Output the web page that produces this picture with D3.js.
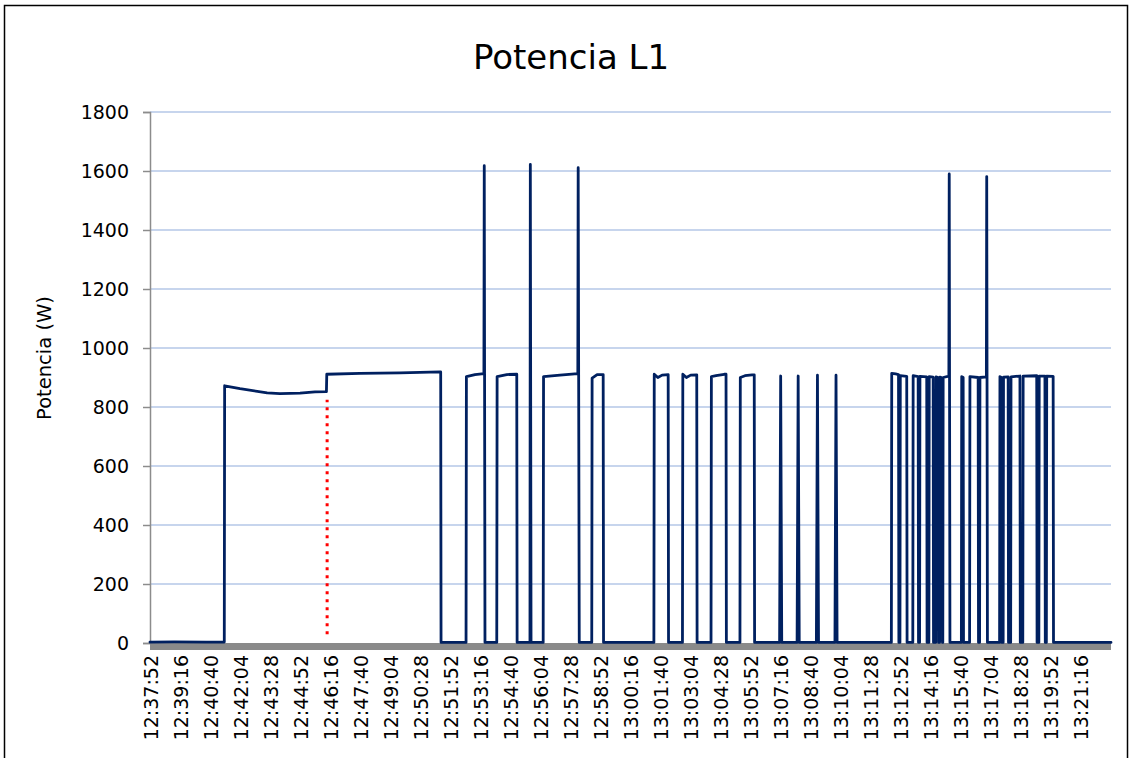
<!DOCTYPE html>
<html>
<head>
<meta charset="utf-8">
<script src="https://cdn.jsdelivr.net/npm/d3@7"></script>
<style>
  html, body { margin: 0; padding: 0; background: #fff; }
  svg { display: block; }
</style>
</head>
<body>
<svg id="chart" width="1132" height="758"></svg>
<script>
// ---- data ----
const title = "Potencia L1";
const yTitle = "Potencia (W)";
const yTicks = [0, 200, 400, 600, 800, 1000, 1200, 1400, 1600, 1800];
const tickLabels = ["12:37:52","12:39:16","12:40:40","12:42:04","12:43:28","12:44:52","12:46:16","12:47:40",
  "12:49:04","12:50:28","12:51:52","12:53:16","12:54:40","12:56:04","12:57:28","12:58:52","13:00:16",
  "13:01:40","13:03:04","13:04:28","13:05:52","13:07:16","13:08:40","13:10:04","13:11:28","13:12:52",
  "13:14:16","13:15:40","13:17:04","13:18:28","13:19:52","13:21:16"];
const domainTimes = ["12:37:52", "13:22:43"];
const times = [
  "12:37:52","12:39:00","12:40:30","12:41:20","12:41:21","12:42:04","12:43:20","12:43:56","12:44:52","12:45:34","12:46:06",
  "12:46:07","12:47:40","12:49:32","12:51:24","12:51:26","12:51:27",
  "12:52:37","12:52:38","12:53:02","12:53:27","12:53:28","12:53:30",
  "12:54:03","12:54:04","12:54:31","12:54:59","12:55:00",
  "12:55:36","12:55:37","12:55:39",
  "12:56:13","12:56:14","12:57:00","12:57:50","12:57:51","12:57:54",
  "12:58:29","12:58:30","12:58:44","12:59:01","12:59:02",
  "13:01:23","13:01:24","13:01:34","13:01:46","13:02:03","13:02:04",
  "13:02:43","13:02:44","13:02:54","13:03:06","13:03:23","13:03:24",
  "13:04:03","13:04:04","13:04:17","13:04:40","13:04:45","13:04:46",
  "13:05:24","13:05:25","13:05:38","13:05:58","13:06:04","13:06:05",
  "13:07:15","13:07:18","13:07:21",
  "13:08:04","13:08:07","13:08:10",
  "13:08:58","13:09:01","13:09:04",
  "13:09:50","13:09:53","13:09:56",
  "13:12:28","13:12:29","13:12:40","13:12:48","13:12:49",
  "13:12:52","13:12:53","13:13:11","13:13:12",
  "13:13:28","13:13:29","13:13:43","13:13:44",
  "13:13:47","13:13:48","13:14:07","13:14:08",
  "13:14:13","13:14:14","13:14:25","13:14:26",
  "13:14:32","13:14:33","13:14:39","13:14:40",
  "13:14:43","13:14:44","13:14:50","13:14:51",
  "13:14:52","13:14:53","13:15:09","13:15:10","13:15:12",
  "13:15:44","13:15:45","13:15:49","13:15:50",
  "13:16:07","13:16:08","13:16:31","13:16:32",
  "13:16:35","13:16:36","13:16:54","13:16:55","13:16:57",
  "13:17:31","13:17:32","13:17:36","13:17:37",
  "13:17:41","13:17:42","13:17:55","13:17:56",
  "13:18:02","13:18:03","13:18:28","13:18:29",
  "13:18:36","13:18:37","13:19:15","13:19:16",
  "13:19:21","13:19:22","13:19:38","13:19:39",
  "13:19:42","13:19:43","13:20:01","13:20:02",
  "13:22:43"
];
const power = [
  3,4,3,3,872,862,848,845,847,851,852,
  911,914,916,919,919,2,
  2,903,910,913,1618,2,
  2,903,910,911,2,
  2,1622,2,
  2,903,908,913,1611,2,
  2,898,910,910,2,
  2,911,900,908,910,2,
  2,911,900,908,909,2,
  2,903,906,911,911,2,
  2,900,906,909,909,2,
  2,905,2,
  2,905,2,
  2,908,2,
  2,908,2,
  2,914,912,910,2,
  2,906,904,2,
  2,906,903,2,
  2,904,902,2,
  2,903,901,2,
  2,902,900,2,
  2,901,899,2,
  2,900,905,1590,2,
  2,903,900,2,
  2,903,900,2,
  2,900,902,1581,2,
  2,903,900,2,
  2,901,902,2,
  2,902,905,2,
  2,905,906,2,
  2,905,905,2,
  2,905,904,2,
  2
];
const markerTime = "12:46:08";
const markerRange = [30, 825];

// ---- chart ----
const parse = d3.timeParse("%H:%M:%S");
const svg = d3.select("#chart");
const font = "DejaVu Sans, sans-serif";

const x = d3.scaleTime().domain(domainTimes.map(parse)).range([150, 1111]);
const y = d3.scaleLinear().domain([0, 1800]).range([643, 112]);

// outer border
svg.append("rect").attr("x", 4.5).attr("y", 5.5).attr("width", 1123).attr("height", 800)
  .attr("fill", "#fff").attr("stroke", "#000").attr("stroke-width", 1.5);

// title
svg.append("text").attr("x", 571).attr("y", 69).attr("text-anchor", "middle")
  .attr("font-family", font).attr("font-size", 34).attr("fill", "#000").text(title);

// gridlines
svg.append("g").selectAll("line").data(yTicks.filter(d => d > 0)).join("line")
  .attr("x1", 150).attr("x2", 1111)
  .attr("y1", d => y(d)).attr("y2", d => y(d))
  .attr("stroke", "#b4c7e7").attr("stroke-width", 1.5);

// y axis
const yAxis = svg.append("g").attr("transform", "translate(150,0)")
  .call(d3.axisLeft(y).tickValues(yTicks).tickSize(7).tickPadding(14).tickFormat(d3.format("d")));
yAxis.select(".domain").attr("stroke", "#8c8c8c").attr("stroke-width", 1.5);
yAxis.selectAll(".tick line").attr("stroke", "#8c8c8c").attr("stroke-width", 1.5);
yAxis.selectAll(".tick text").attr("font-family", font).attr("font-size", 19).attr("fill", "#000");

// y title
svg.append("text").attr("transform", "translate(44,358) rotate(-90)").attr("text-anchor", "middle")
  .attr("dominant-baseline", "central")
  .attr("font-family", font).attr("font-size", 19.5).attr("fill", "#000").text(yTitle);

// x axis gray bar
svg.append("rect").attr("x", 150).attr("y", 643).attr("width", 961).attr("height", 7).attr("fill", "#8a8a8a");

// x tick labels
svg.append("g").selectAll("text").data(tickLabels).join("text")
  .attr("transform", d => `translate(${x(parse(d)) + 1},655) rotate(-90)`)
  .attr("text-anchor", "end").attr("dominant-baseline", "central")
  .attr("font-family", font).attr("font-size", 19).attr("fill", "#000").text(d => d);

// red marker
svg.append("line")
  .attr("x1", x(parse(markerTime))).attr("x2", x(parse(markerTime)))
  .attr("y1", y(markerRange[0])).attr("y2", y(markerRange[1]))
  .attr("stroke", "#ff0000").attr("stroke-width", 3).attr("stroke-dasharray", "3,5");

// series line
const pts = times.map((t, i) => [parse(t), power[i]]);
svg.append("path").datum(pts)
  .attr("fill", "none").attr("stroke", "#002060").attr("stroke-width", 2.8)
  .attr("stroke-linejoin", "round").attr("stroke-linecap", "round")
  .attr("d", d3.line().x(d => x(d[0])).y(d => y(d[1])));
</script>
</body>
</html>
